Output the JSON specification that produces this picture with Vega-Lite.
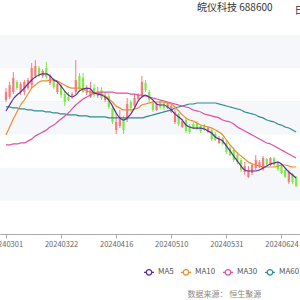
{
  "$schema": "https://vega.github.io/schema/vega-lite/v6.json",
  "width": 300,
  "height": 199,
  "autosize": "none",
  "padding": {"left": 0, "top": 35, "right": 0, "bottom": 66},
  "background": "white",
  "config": {"view": {"stroke": null}, "font": "Noto Sans CJK SC"},
  "title": {"text": "皖仪科技 688600", "anchor": "start", "frame": "group", "dx": 197, "dy": 18, "offset": 0, "baseline": "bottom", "fontSize": 10, "fontWeight": "normal", "color": "#333333", "font": "Noto Sans CJK SC"},
  "data": {"values": [
    {"i":0,"o":22.08,"c":22.56,"h":22.80,"l":21.96,"MA5":21.42,"MA10":19.97,"MA30":19.37,"MA60":21.66},
    {"i":1,"o":22.26,"c":22.98,"h":23.17,"l":22.14,"MA5":21.78,"MA10":20.45,"MA30":19.37,"MA60":21.66},
    {"i":2,"o":22.56,"c":23.41,"h":23.77,"l":22.44,"MA5":22.14,"MA10":20.93,"MA30":19.43,"MA60":21.60},
    {"i":3,"o":23.17,"c":22.80,"h":23.29,"l":22.68,"MA5":22.38,"MA10":21.36,"MA30":19.43,"MA60":21.60},
    {"i":4,"o":22.56,"c":23.05,"h":23.17,"l":22.38,"MA5":22.56,"MA10":21.78,"MA30":19.49,"MA60":21.54},
    {"i":5,"o":22.56,"c":23.17,"h":23.29,"l":22.38,"MA5":22.80,"MA10":22.08,"MA30":19.49,"MA60":21.54},
    {"i":6,"o":22.80,"c":23.29,"h":23.41,"l":22.68,"MA5":23.05,"MA10":22.44,"MA30":19.61,"MA60":21.48},
    {"i":7,"o":22.98,"c":24.01,"h":24.31,"l":22.80,"MA5":23.29,"MA10":22.80,"MA30":19.73,"MA60":21.48},
    {"i":8,"o":23.53,"c":24.13,"h":24.49,"l":23.41,"MA5":23.47,"MA10":22.98,"MA30":19.91,"MA60":21.42},
    {"i":9,"o":24.01,"c":23.59,"h":24.13,"l":23.47,"MA5":23.59,"MA10":23.17,"MA30":20.03,"MA60":21.42},
    {"i":10,"o":23.53,"c":23.83,"h":23.95,"l":23.41,"MA5":23.65,"MA10":23.23,"MA30":20.15,"MA60":21.42},
    {"i":11,"o":24.01,"c":23.47,"h":24.37,"l":23.35,"MA5":23.65,"MA10":23.23,"MA30":20.27,"MA60":21.36},
    {"i":12,"o":23.11,"c":23.53,"h":23.65,"l":22.98,"MA5":23.53,"MA10":23.29,"MA30":20.45,"MA60":21.36},
    {"i":13,"o":23.35,"c":22.86,"h":23.41,"l":22.74,"MA5":23.29,"MA10":23.29,"MA30":20.57,"MA60":21.30},
    {"i":14,"o":22.56,"c":23.05,"h":23.17,"l":22.44,"MA5":23.17,"MA10":23.23,"MA30":20.75,"MA60":21.30},
    {"i":15,"o":22.98,"c":22.38,"h":23.05,"l":22.20,"MA5":22.92,"MA10":23.11,"MA30":20.93,"MA60":21.24},
    {"i":16,"o":22.44,"c":21.96,"h":22.62,"l":21.72,"MA5":22.62,"MA10":22.98,"MA30":21.12,"MA60":21.24},
    {"i":17,"o":22.26,"c":22.08,"h":22.56,"l":22.02,"MA5":22.38,"MA10":22.86,"MA30":21.30,"MA60":21.18},
    {"i":18,"o":22.26,"c":22.44,"h":22.56,"l":22.14,"MA5":22.26,"MA10":22.80,"MA30":21.54,"MA60":21.18},
    {"i":19,"o":22.56,"c":23.29,"h":24.49,"l":22.44,"MA5":22.38,"MA10":22.80,"MA30":21.78,"MA60":21.18},
    {"i":20,"o":23.53,"c":22.80,"h":23.71,"l":22.68,"MA5":22.62,"MA10":22.80,"MA30":21.96,"MA60":21.12},
    {"i":21,"o":23.41,"c":22.56,"h":23.71,"l":22.50,"MA5":22.74,"MA10":22.74,"MA30":22.14,"MA60":21.12},
    {"i":22,"o":22.50,"c":22.80,"h":22.98,"l":22.38,"MA5":22.80,"MA10":22.62,"MA30":22.26,"MA60":21.12},
    {"i":23,"o":22.26,"c":22.68,"h":23.17,"l":22.20,"MA5":22.74,"MA10":22.56,"MA30":22.38,"MA60":21.06},
    {"i":24,"o":22.80,"c":22.38,"h":23.05,"l":22.26,"MA5":22.50,"MA10":22.50,"MA30":22.50,"MA60":21.06},
    {"i":25,"o":22.32,"c":22.56,"h":22.86,"l":22.20,"MA5":22.44,"MA10":22.50,"MA30":22.56,"MA60":21.06},
    {"i":26,"o":22.68,"c":22.20,"h":22.86,"l":22.08,"MA5":22.38,"MA10":22.44,"MA30":22.56,"MA60":21.06},
    {"i":27,"o":22.08,"c":22.32,"h":22.56,"l":21.96,"MA5":22.26,"MA10":22.32,"MA30":22.56,"MA60":21.06},
    {"i":28,"o":22.32,"c":21.66,"h":22.50,"l":21.54,"MA5":22.08,"MA10":22.14,"MA30":22.56,"MA60":21.00},
    {"i":29,"o":21.60,"c":20.75,"h":21.72,"l":20.63,"MA5":21.72,"MA10":21.96,"MA30":22.56,"MA60":21.00},
    {"i":30,"o":20.27,"c":20.75,"h":21.30,"l":20.03,"MA5":21.30,"MA10":21.72,"MA30":22.50,"MA60":21.00},
    {"i":31,"o":20.51,"c":21.00,"h":21.48,"l":20.39,"MA5":21.00,"MA10":21.60,"MA30":22.50,"MA60":21.00},
    {"i":32,"o":21.00,"c":20.27,"h":21.12,"l":20.03,"MA5":20.87,"MA10":21.48,"MA30":22.50,"MA60":21.00},
    {"i":33,"o":20.87,"c":21.84,"h":22.20,"l":20.75,"MA5":21.00,"MA10":21.48,"MA30":22.50,"MA60":21.00},
    {"i":34,"o":21.96,"c":21.60,"h":22.08,"l":21.36,"MA5":21.24,"MA10":21.48,"MA30":22.44,"MA60":21.00},
    {"i":35,"o":21.72,"c":22.20,"h":22.44,"l":21.60,"MA5":21.60,"MA10":21.54,"MA30":22.44,"MA60":21.00},
    {"i":36,"o":22.14,"c":22.38,"h":22.50,"l":22.02,"MA5":22.02,"MA10":21.60,"MA30":22.38,"MA60":21.00},
    {"i":37,"o":22.38,"c":23.17,"h":23.53,"l":22.26,"MA5":22.26,"MA10":21.78,"MA30":22.38,"MA60":21.00},
    {"i":38,"o":23.11,"c":22.68,"h":23.29,"l":22.56,"MA5":22.38,"MA10":21.84,"MA30":22.32,"MA60":21.06},
    {"i":39,"o":22.56,"c":22.08,"h":22.68,"l":21.96,"MA5":22.26,"MA10":21.90,"MA30":22.26,"MA60":21.12},
    {"i":40,"o":21.90,"c":21.48,"h":22.02,"l":21.36,"MA5":22.08,"MA10":21.96,"MA30":22.20,"MA60":21.18},
    {"i":41,"o":21.48,"c":21.84,"h":21.96,"l":21.42,"MA5":21.84,"MA10":21.96,"MA30":22.14,"MA60":21.24},
    {"i":42,"o":22.02,"c":21.66,"h":22.08,"l":21.54,"MA5":21.78,"MA10":21.96,"MA30":22.08,"MA60":21.30},
    {"i":43,"o":21.90,"c":21.60,"h":21.96,"l":21.48,"MA5":21.78,"MA10":21.96,"MA30":22.02,"MA60":21.36},
    {"i":44,"o":21.60,"c":21.84,"h":21.90,"l":21.54,"MA5":21.66,"MA10":21.90,"MA30":21.96,"MA60":21.42},
    {"i":45,"o":21.36,"c":21.72,"h":21.78,"l":21.30,"MA5":21.48,"MA10":21.84,"MA30":21.90,"MA60":21.48},
    {"i":46,"o":20.75,"c":21.36,"h":21.54,"l":20.63,"MA5":21.24,"MA10":21.66,"MA30":21.84,"MA60":21.60},
    {"i":47,"o":21.24,"c":20.63,"h":21.30,"l":20.51,"MA5":21.06,"MA10":21.42,"MA30":21.78,"MA60":21.66},
    {"i":48,"o":20.45,"c":20.81,"h":20.93,"l":20.39,"MA5":20.87,"MA10":21.18,"MA30":21.72,"MA60":21.72},
    {"i":49,"o":20.87,"c":20.21,"h":21.00,"l":20.09,"MA5":20.57,"MA10":21.00,"MA30":21.66,"MA60":21.78},
    {"i":50,"o":20.51,"c":20.15,"h":20.63,"l":20.03,"MA5":20.45,"MA10":20.87,"MA30":21.60,"MA60":21.84},
    {"i":51,"o":20.63,"c":20.39,"h":20.75,"l":20.33,"MA5":20.39,"MA10":20.81,"MA30":21.48,"MA60":21.84},
    {"i":52,"o":20.69,"c":20.33,"h":20.81,"l":20.27,"MA5":20.39,"MA10":20.69,"MA30":21.42,"MA60":21.90},
    {"i":53,"o":20.51,"c":20.21,"h":20.57,"l":20.09,"MA5":20.39,"MA10":20.57,"MA30":21.36,"MA60":21.90},
    {"i":54,"o":20.57,"c":20.27,"h":20.63,"l":20.21,"MA5":20.33,"MA10":20.51,"MA30":21.24,"MA60":21.90},
    {"i":55,"o":20.15,"c":20.39,"h":20.51,"l":20.09,"MA5":20.21,"MA10":20.45,"MA30":21.18,"MA60":21.90},
    {"i":56,"o":20.27,"c":19.73,"h":20.39,"l":19.61,"MA5":20.09,"MA10":20.39,"MA30":21.12,"MA60":21.90},
    {"i":57,"o":20.03,"c":19.67,"h":20.15,"l":19.61,"MA5":19.85,"MA10":20.27,"MA30":21.06,"MA60":21.90},
    {"i":58,"o":19.49,"c":19.79,"h":19.91,"l":19.43,"MA5":19.73,"MA10":20.15,"MA30":21.00,"MA60":21.84},
    {"i":59,"o":19.79,"c":19.43,"h":19.85,"l":19.37,"MA5":19.61,"MA10":19.97,"MA30":20.87,"MA60":21.78},
    {"i":60,"o":19.49,"c":18.95,"h":19.61,"l":18.82,"MA5":19.31,"MA10":19.67,"MA30":20.81,"MA60":21.72},
    {"i":61,"o":19.19,"c":18.76,"h":19.37,"l":18.70,"MA5":19.01,"MA10":19.37,"MA30":20.75,"MA60":21.66},
    {"i":62,"o":19.07,"c":18.46,"h":19.19,"l":18.34,"MA5":18.70,"MA10":19.13,"MA30":20.63,"MA60":21.60},
    {"i":63,"o":18.76,"c":18.34,"h":18.95,"l":18.22,"MA5":18.40,"MA10":18.88,"MA30":20.45,"MA60":21.54},
    {"i":64,"o":18.46,"c":17.86,"h":18.58,"l":17.74,"MA5":18.10,"MA10":18.70,"MA30":20.33,"MA60":21.48},
    {"i":65,"o":17.74,"c":18.10,"h":18.34,"l":17.56,"MA5":17.86,"MA10":18.52,"MA30":20.21,"MA60":21.36},
    {"i":66,"o":17.44,"c":17.86,"h":18.10,"l":17.38,"MA5":17.80,"MA10":18.34,"MA30":20.09,"MA60":21.30},
    {"i":67,"o":17.68,"c":18.16,"h":18.28,"l":17.56,"MA5":17.80,"MA10":18.22,"MA30":19.97,"MA60":21.24},
    {"i":68,"o":17.98,"c":18.46,"h":18.76,"l":17.86,"MA5":17.80,"MA10":18.16,"MA30":19.85,"MA60":21.18},
    {"i":69,"o":18.04,"c":18.34,"h":18.46,"l":17.98,"MA5":17.86,"MA10":18.10,"MA30":19.73,"MA60":21.06},
    {"i":70,"o":17.92,"c":18.58,"h":18.70,"l":17.80,"MA5":17.98,"MA10":18.04,"MA30":19.61,"MA60":21.00},
    {"i":71,"o":18.52,"c":18.22,"h":18.58,"l":18.10,"MA5":18.10,"MA10":18.04,"MA30":19.49,"MA60":20.87},
    {"i":72,"o":18.16,"c":18.58,"h":18.64,"l":18.10,"MA5":18.22,"MA10":18.04,"MA30":19.43,"MA60":20.81},
    {"i":73,"o":18.58,"c":18.16,"h":18.64,"l":18.10,"MA5":18.28,"MA10":18.04,"MA30":19.31,"MA60":20.75},
    {"i":74,"o":18.28,"c":17.92,"h":18.40,"l":17.80,"MA5":18.34,"MA10":18.10,"MA30":19.19,"MA60":20.63},
    {"i":75,"o":18.10,"c":17.68,"h":18.22,"l":17.62,"MA5":18.22,"MA10":18.16,"MA30":19.07,"MA60":20.57},
    {"i":76,"o":17.86,"c":17.44,"h":17.98,"l":17.38,"MA5":17.98,"MA10":18.16,"MA30":18.95,"MA60":20.45},
    {"i":77,"o":17.14,"c":17.74,"h":17.86,"l":17.02,"MA5":17.74,"MA10":18.10,"MA30":18.82,"MA60":20.39},
    {"i":78,"o":17.62,"c":17.14,"h":17.68,"l":17.02,"MA5":17.56,"MA10":18.04,"MA30":18.70,"MA60":20.27},
    {"i":79,"o":17.38,"c":16.89,"h":17.50,"l":16.83,"MA5":17.38,"MA10":18.04,"MA30":18.58,"MA60":20.15}
  ]},
  "layer": [
    {
      "data": {"values": [{"lo": 24, "hi": 26}, {"lo": 20, "hi": 22}, {"lo": 16, "hi": 18}]},
      "mark": {"type": "rect", "color": "#f5f7fb"},
      "encoding": {
        "y": {"field": "lo", "type": "quantitative",
          "scale": {"domain": [14, 26], "nice": false, "zero": false},
          "axis": {"values": [14, 16, 18, 20, 22, 24, 26], "grid": true, "gridColor": "#e6e9f0", "gridWidth": 1, "labels": false, "ticks": false, "domain": false,
            "title": "日K", "titleAngle": 0, "titleX": 294, "titleY": -25, "titleAlign": "left", "titleBaseline": "middle", "titleFontSize": 10, "titleFontWeight": "normal", "titleColor": "#333333", "titleFont": "Noto Sans CJK SC"}},
        "y2": {"field": "hi"}
      }
    },
    {
      "encoding": {
        "x": {"field": "i", "type": "quantitative",
          "scale": {"domain": [-0.26, 78.68], "nice": false, "zero": false},
          "axis": {"values": [0, 15, 30, 45, 60, 75], "grid": false,
            "labelExpr": "datum.value == 0 ? '20240301' : datum.value == 15 ? '20240322' : datum.value == 30 ? '20240416' : datum.value == 45 ? '20240510' : datum.value == 60 ? '20240531' : '20240624'",
            "labelFontSize": 7.5, "labelColor": "#666666", "labelPadding": 2, "labelFont": "Noto Sans CJK SC",
            "domainColor": "#aaaaaa", "tickColor": "#aaaaaa", "tickSize": 4,
            "title": "数据来源： 恒生聚源", "titleX": 187, "titleY": 60, "titleAlign": "left", "titleBaseline": "middle", "titleFontSize": 8, "titleFontWeight": "normal", "titleColor": "#888888", "titleFont": "Noto Sans CJK SC"}}
      },
      "layer": [
        {
          "mark": {"type": "rule", "strokeWidth": 1, "clip": true},
          "encoding": {
            "y": {"field": "l", "type": "quantitative"},
            "y2": {"field": "h"},
            "color": {"condition": {"test": "datum.c >= datum.o", "value": "#f87a7a"}, "value": "#7ee84a"}
          }
        },
        {
          "mark": {"type": "bar", "size": 2.2, "clip": true},
          "encoding": {
            "y": {"field": "o", "type": "quantitative"},
            "y2": {"field": "c"},
            "color": {"condition": {"test": "datum.c >= datum.o", "value": "#f87a7a"}, "value": "#7ee84a"}
          }
        },
        {
          "transform": [{"fold": ["MA60", "MA30", "MA10", "MA5"], "as": ["ma", "v"]}],
          "mark": {"type": "line", "interpolate": "monotone", "strokeWidth": 1.2, "clip": true},
          "encoding": {
            "y": {"field": "v", "type": "quantitative"},
            "color": {"field": "ma", "type": "nominal",
              "scale": {"domain": ["MA5", "MA10", "MA30", "MA60"], "range": ["#5a2d9e", "#ee8a30", "#de4fa6", "#2e8e8e"]},
              "legend": {"orient": "none", "legendX": 143, "legendY": 231, "direction": "horizontal", "title": null,
                "symbolType": "M-1,0L-0.55,0M0.55,0L1,0M0.55,0A0.55,0.55,0,1,1,-0.55,0A0.55,0.55,0,1,1,0.55,0",
                "symbolSize": 100, "symbolStrokeWidth": 1.3, "symbolFillColor": "white",
                "labelFontSize": 8, "labelColor": "#555555", "labelFont": "Noto Sans CJK SC", "labelOffset": 3, "columnPadding": 4}},
            "order": {"value": 0}
          }
        }
      ]
    }
  ]
}
